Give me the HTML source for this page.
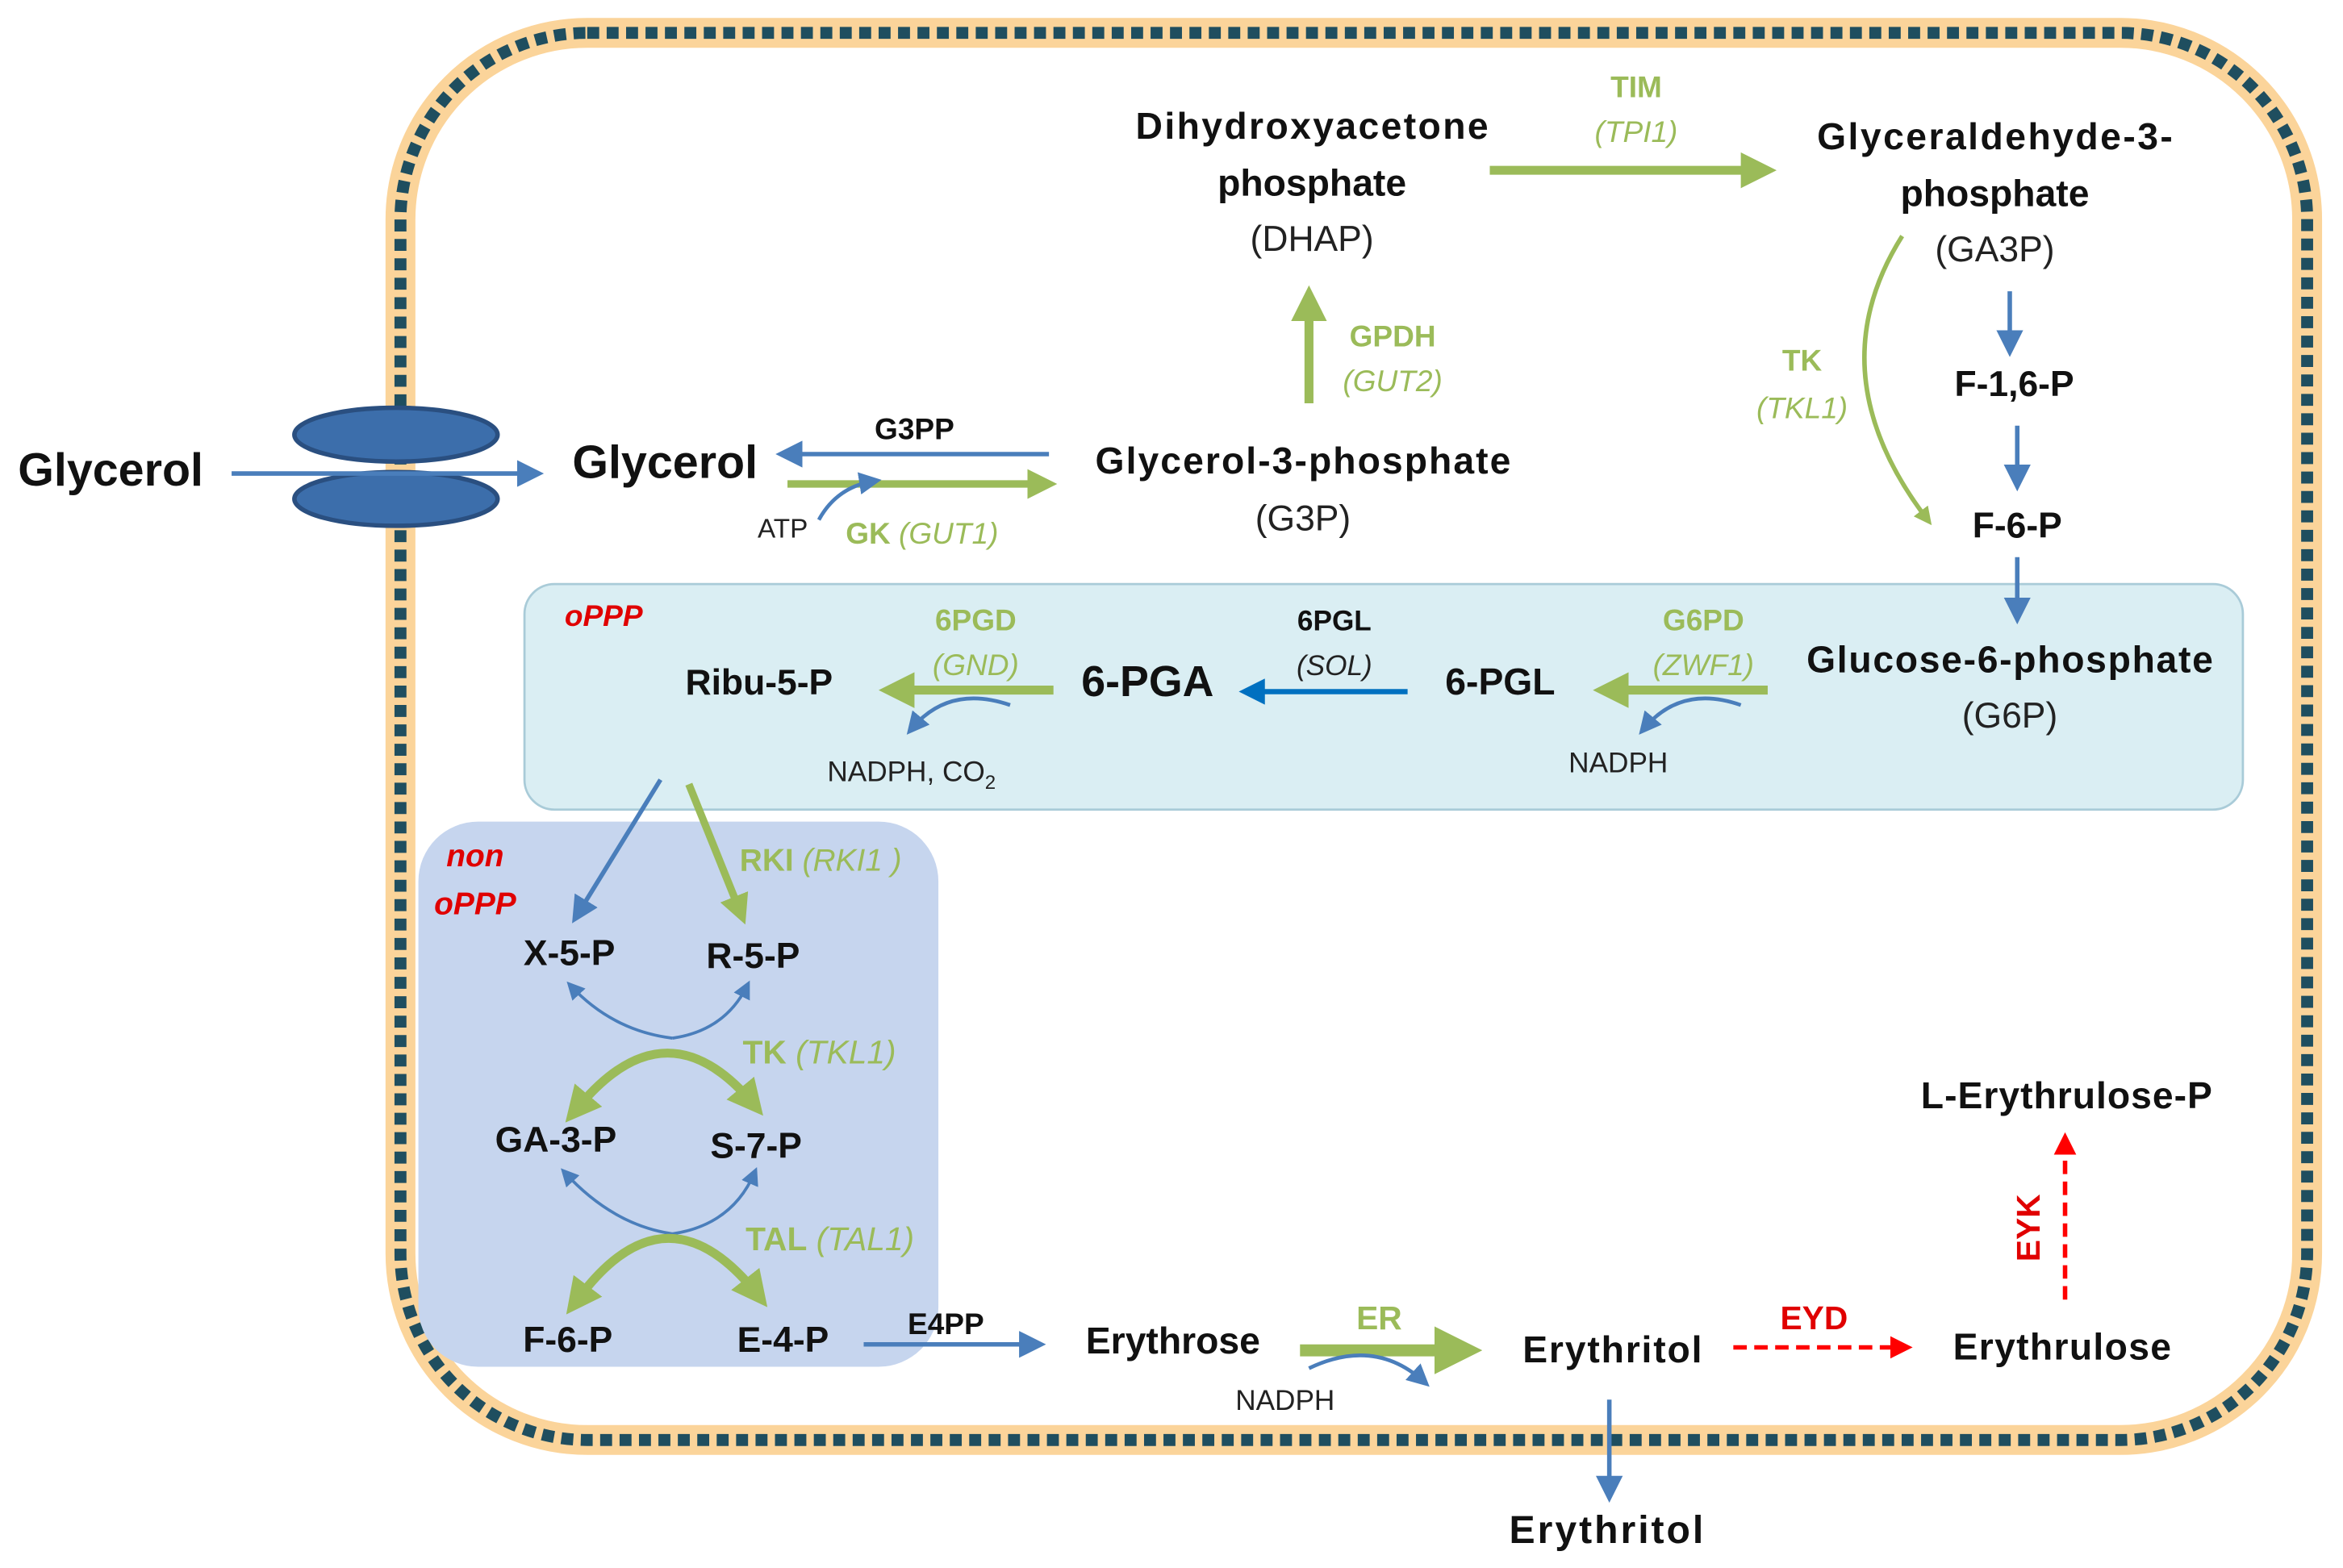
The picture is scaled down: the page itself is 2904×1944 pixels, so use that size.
<!DOCTYPE html>
<html><head><meta charset="utf-8"><style>
html,body{margin:0;padding:0;background:#fff}
svg{display:block}
text{font-family:"Liberation Sans",Arial,sans-serif}
.b{font-weight:bold;fill:#111}
.n{fill:#222}
.g{fill:#9bbb59;font-weight:bold}
.gi{fill:#9bbb59;font-style:italic}
.r{fill:#e00000;font-weight:bold;font-style:italic}
</style></head><body>
<svg width="2904" height="1944" viewBox="0 0 1568 1049.7" preserveAspectRatio="none" xmlns="http://www.w3.org/2000/svg">
<defs>
<marker id="ab" markerWidth="6" markerHeight="6" refX="4" refY="3" orient="auto" markerUnits="strokeWidth"><path d="M0,0 L6,3 L0,6 z" fill="#4a7ebb"/></marker>
<marker id="ab2" markerWidth="5" markerHeight="5" refX="3" refY="2.5" orient="auto" markerUnits="strokeWidth"><path d="M0,0 L5,2.5 L0,5 z" fill="#0070c0"/></marker>
<marker id="ag" markerWidth="4" markerHeight="4" refX="2.5" refY="2" orient="auto" markerUnits="strokeWidth"><path d="M0,0 L4,2 L0,4 z" fill="#9bbb59"/></marker>
<marker id="agr" markerWidth="4" markerHeight="4" refX="1.5" refY="2" orient="auto-start-reverse" markerUnits="strokeWidth"><path d="M0,0 L4,2 L0,4 z" fill="#9bbb59"/></marker>
<marker id="ar" markerWidth="5" markerHeight="5" refX="3" refY="2.5" orient="auto" markerUnits="strokeWidth"><path d="M0,0 L5,2.5 L0,5 z" fill="#ff0000"/></marker>
</defs>
<!-- membrane -->
<rect x="268" y="22" width="1276" height="942" rx="125" fill="none" stroke="#fbd49a" stroke-width="20"/>
<rect x="268" y="22" width="1276" height="942" rx="125" fill="none" stroke="#1f4e5f" stroke-width="8" stroke-dasharray="8 5"/>
<!-- boxes -->
<rect x="351" y="391" width="1150" height="151" rx="20" fill="#daeef3" stroke="#a9cbd8" stroke-width="1.5"/>
<rect x="280" y="550" width="348" height="365" rx="40" fill="#c6d5ee"/>
<!-- transporter -->
<ellipse cx="265" cy="291" rx="68" ry="18" fill="#3c6eab" stroke="#2a4f80" stroke-width="3"/>
<ellipse cx="265" cy="334" rx="68" ry="18" fill="#3c6eab" stroke="#2a4f80" stroke-width="3"/>
<line x1="155" y1="317" x2="358" y2="317" stroke="#4a7ebb" stroke-width="3" marker-end="url(#ab)"/>
<text x="12" y="325" class="b" font-size="31">Glycerol</text>
<text x="383" y="320" class="b" font-size="31">Glycerol</text>
<text x="612" y="294" class="b" font-size="20" text-anchor="middle">G3PP</text>
<line x1="702" y1="304" x2="525" y2="304" stroke="#4a7ebb" stroke-width="3" marker-end="url(#ab)"/>
<line x1="527" y1="324" x2="700" y2="324" stroke="#9bbb59" stroke-width="5" marker-end="url(#ag)"/>
<path d="M548,348 Q560,326 585,322" fill="none" stroke="#4a7ebb" stroke-width="2.5" marker-end="url(#ab)"/>
<text x="507" y="360" class="n" font-size="18">ATP</text>
<text x="566" y="364" font-size="20"><tspan class="g">GK</tspan><tspan class="gi"> (GUT1)</tspan></text>
<text x="872" y="317" class="b" font-size="25" text-anchor="middle" textLength="278">Glycerol-3-phosphate</text>
<text x="872" y="355" class="n" font-size="24" text-anchor="middle">(G3P)</text>
<line x1="876" y1="270" x2="876" y2="200" stroke="#9bbb59" stroke-width="6" marker-end="url(#ag)"/>
<text x="932" y="232" class="g" font-size="20" text-anchor="middle">GPDH</text>
<text x="932" y="262" class="gi" font-size="20" text-anchor="middle">(GUT2)</text>
<text x="878" y="93" class="b" font-size="25" text-anchor="middle" textLength="236">Dihydroxyacetone</text>
<text x="878" y="131" class="b" font-size="25" text-anchor="middle">phosphate</text>
<text x="878" y="168" class="n" font-size="24" text-anchor="middle">(DHAP)</text>
<text x="1095" y="65" class="g" font-size="20" text-anchor="middle">TIM</text>
<text x="1095" y="95" class="gi" font-size="20" text-anchor="middle">(TPI1)</text>
<line x1="997" y1="114" x2="1180" y2="114" stroke="#9bbb59" stroke-width="6" marker-end="url(#ag)"/>
<text x="1335" y="100" class="b" font-size="25" text-anchor="middle" textLength="238">Glyceraldehyde-3-</text>
<text x="1335" y="138" class="b" font-size="25" text-anchor="middle">phosphate</text>
<text x="1335" y="175" class="n" font-size="24" text-anchor="middle">(GA3P)</text>
<line x1="1345" y1="195" x2="1345" y2="233" stroke="#4a7ebb" stroke-width="3" marker-end="url(#ab)"/>
<text x="1348" y="265" class="b" font-size="24" text-anchor="middle">F-1,6-P</text>
<line x1="1350" y1="285" x2="1350" y2="323" stroke="#4a7ebb" stroke-width="3" marker-end="url(#ab)"/>
<text x="1350" y="360" class="b" font-size="24" text-anchor="middle">F-6-P</text>
<line x1="1350" y1="373" x2="1350" y2="412" stroke="#4a7ebb" stroke-width="3" marker-end="url(#ab)"/>
<path d="M1273,158 Q1215,250 1290,348" fill="none" stroke="#9bbb59" stroke-width="3" marker-end="url(#ag)"/>
<text x="1206" y="248" class="g" font-size="20" text-anchor="middle">TK</text>
<text x="1206" y="280" class="gi" font-size="20" text-anchor="middle">(TKL1)</text>
<!-- oPPP -->
<text x="1345" y="450" class="b" font-size="25" text-anchor="middle" textLength="272">Glucose-6-phosphate</text>
<text x="1345" y="487" class="n" font-size="24" text-anchor="middle">(G6P)</text>
<text x="1140" y="422" class="g" font-size="20" text-anchor="middle">G6PD</text>
<text x="1140" y="452" class="gi" font-size="20" text-anchor="middle">(ZWF1)</text>
<line x1="1183" y1="462" x2="1075" y2="462" stroke="#9bbb59" stroke-width="6" marker-end="url(#ag)"/>
<path d="M1165,472 Q1125,458 1100,488" fill="none" stroke="#4a7ebb" stroke-width="2.5" marker-end="url(#ab)"/>
<text x="1083" y="517" class="n" font-size="19" text-anchor="middle">NADPH</text>
<text x="1004" y="465" class="b" font-size="25" text-anchor="middle">6-PGL</text>
<line x1="942" y1="463" x2="836" y2="463" stroke="#0070c0" stroke-width="3.5" marker-end="url(#ab2)"/>
<text x="893" y="422" class="b" font-size="19" text-anchor="middle">6PGL</text>
<text x="893" y="452" class="n" font-size="19" font-style="italic" text-anchor="middle">(SOL)</text>
<text x="768" y="466" class="b" font-size="29" text-anchor="middle">6-PGA</text>
<line x1="705" y1="462" x2="597" y2="462" stroke="#9bbb59" stroke-width="6" marker-end="url(#ag)"/>
<text x="653" y="422" class="g" font-size="20" text-anchor="middle">6PGD</text>
<text x="653" y="452" class="gi" font-size="20" text-anchor="middle">(GND)</text>
<path d="M676,472 Q635,458 610,488" fill="none" stroke="#4a7ebb" stroke-width="2.5" marker-end="url(#ab)"/>
<text x="610" y="523" class="n" font-size="19" text-anchor="middle">NADPH, CO<tspan font-size="13" dy="5">2</tspan></text>
<text x="508" y="465" class="b" font-size="24" text-anchor="middle">Ribu-5-P</text>
<text x="404" y="419" class="r" font-size="20" text-anchor="middle">oPPP</text>
<!-- non oPPP -->
<text x="318" y="580" class="r" font-size="21" text-anchor="middle">non</text>
<text x="318" y="612" class="r" font-size="21" text-anchor="middle">oPPP</text>
<line x1="442" y1="522" x2="386" y2="613" stroke="#4a7ebb" stroke-width="3" marker-end="url(#ab)"/>
<line x1="461" y1="525" x2="496" y2="612" stroke="#9bbb59" stroke-width="5" marker-end="url(#ag)"/>
<text x="495" y="583" font-size="21"><tspan class="g">RKI</tspan><tspan class="gi"> (RKI1 )</tspan></text>
<text x="381" y="646" class="b" font-size="24" text-anchor="middle">X-5-P</text>
<text x="504" y="648" class="b" font-size="24" text-anchor="middle">R-5-P</text>
<path d="M450,695 Q410,690 382,660" fill="none" stroke="#4a7ebb" stroke-width="2" marker-end="url(#ab)"/>
<path d="M450,695 Q485,690 500,660" fill="none" stroke="#4a7ebb" stroke-width="2" marker-end="url(#ab)"/>
<path d="M388,740 Q447,670 505,740" fill="none" stroke="#9bbb59" stroke-width="6" marker-start="url(#agr)" marker-end="url(#ag)"/>
<text x="497" y="712" font-size="22"><tspan class="g">TK</tspan><tspan class="gi"> (TKL1)</tspan></text>
<text x="372" y="771" class="b" font-size="24" text-anchor="middle">GA-3-P</text>
<text x="506" y="775" class="b" font-size="24" text-anchor="middle">S-7-P</text>
<path d="M450,826 Q410,820 378,785" fill="none" stroke="#4a7ebb" stroke-width="2" marker-end="url(#ab)"/>
<path d="M450,826 Q490,820 505,785" fill="none" stroke="#4a7ebb" stroke-width="2" marker-end="url(#ab)"/>
<path d="M388,868 Q447,790 508,868" fill="none" stroke="#9bbb59" stroke-width="6" marker-start="url(#agr)" marker-end="url(#ag)"/>
<text x="499" y="837" font-size="22"><tspan class="g">TAL</tspan><tspan class="gi"> (TAL1)</tspan></text>
<text x="380" y="905" class="b" font-size="24" text-anchor="middle">F-6-P</text>
<text x="524" y="905" class="b" font-size="24" text-anchor="middle">E-4-P</text>
<!-- bottom -->
<line x1="578" y1="900" x2="694" y2="900" stroke="#4a7ebb" stroke-width="3" marker-end="url(#ab)"/>
<text x="633" y="893" class="b" font-size="20" text-anchor="middle">E4PP</text>
<text x="785" y="906" class="b" font-size="25" text-anchor="middle">Erythrose</text>
<line x1="870" y1="904" x2="980" y2="904" stroke="#9bbb59" stroke-width="8" marker-end="url(#ag)"/>
<text x="923" y="890" class="g" font-size="22" text-anchor="middle">ER</text>
<path d="M876,916 Q920,895 953,925" fill="none" stroke="#4a7ebb" stroke-width="2.5" marker-end="url(#ab)"/>
<text x="860" y="944" class="n" font-size="19" text-anchor="middle">NADPH</text>
<text x="1079" y="912" class="b" font-size="25" text-anchor="middle" textLength="120">Erythritol</text>
<line x1="1160" y1="902" x2="1274" y2="902" stroke="#ff0000" stroke-width="3" stroke-dasharray="9 5" marker-end="url(#ar)"/>
<text x="1214" y="890" font-size="22" fill="#e00000" font-weight="bold" text-anchor="middle">EYD</text>
<text x="1380" y="910" class="b" font-size="25" text-anchor="middle" textLength="146">Erythrulose</text>
<line x1="1382" y1="870" x2="1382" y2="764" stroke="#ff0000" stroke-width="3" stroke-dasharray="9 5" marker-end="url(#ar)"/>
<text x="1365" y="822" font-size="22" fill="#e00000" font-weight="bold" text-anchor="middle" transform="rotate(-90 1365 822)">EYK</text>
<text x="1383" y="742" class="b" font-size="25" text-anchor="middle" textLength="195">L-Erythrulose-P</text>
<line x1="1077" y1="937" x2="1077" y2="1000" stroke="#4a7ebb" stroke-width="3" marker-end="url(#ab)"/>
<text x="1075" y="1033" class="b" font-size="26" text-anchor="middle" textLength="130">Erythritol</text>
</svg>
</body></html>
